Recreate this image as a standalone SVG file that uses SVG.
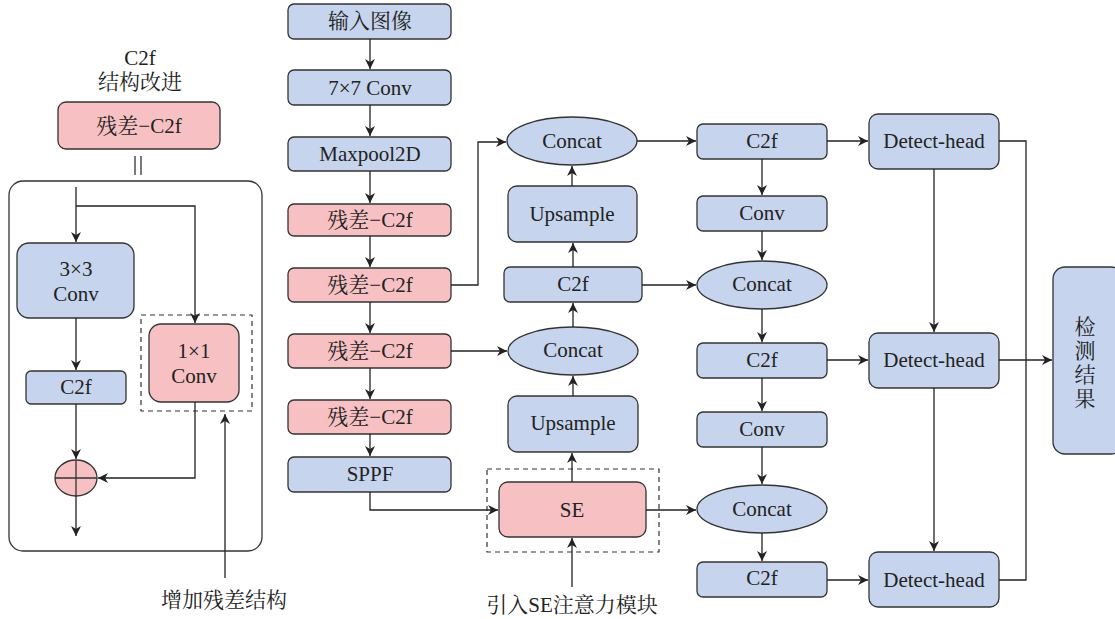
<svg xmlns="http://www.w3.org/2000/svg" width="1115" height="619" viewBox="0 0 1115 619">
<defs>
<marker id="ah" viewBox="0 0 10 10" refX="10" refY="5" markerWidth="10" markerHeight="10" markerUnits="userSpaceOnUse" orient="auto">
<path d="M0,0 L10,5 L0,10 L3,5 Z" fill="#222"/>
</marker>
<style>
.b{fill:#c6d5ed;stroke:#333;stroke-width:1.3}
.p{fill:#f7c1c3;stroke:#333;stroke-width:1.3}
.d{fill:none;stroke:#333;stroke-width:1.2;stroke-dasharray:5 4}
.o{fill:none;stroke:#333;stroke-width:1.3}
.t{font-family:'Liberation Serif','Times New Roman','Noto Serif CJK SC','Noto Sans CJK SC',serif;font-size:21px;fill:#222;text-anchor:middle;dominant-baseline:central}
.c line,.c path{fill:none;stroke:#222;stroke-width:1.3}
.a{marker-end:url(#ah)}
</style>
</defs>
<rect width="1115" height="619" fill="#fff"/>

<!-- Left panel -->
<g id="left-title"><text class="t" x="140" y="58">C2f</text><text class="t" x="140" y="82">结构改进</text></g>
<g id="left-res"><rect class="p" x="58" y="102" width="162" height="47" rx="8"/><text class="t" x="139" y="126">残差−C2f</text></g>
<g id="eq"><line x1="135" y1="156" x2="135" y2="175" stroke="#333" stroke-width="1.3"/><line x1="141" y1="156" x2="141" y2="175" stroke="#333" stroke-width="1.3"/></g>
<g id="left-frame"><rect class="o" x="9" y="181" width="253" height="370" rx="14"/></g>
<g id="conv3"><rect class="b" x="17" y="243" width="117" height="75" rx="12"/><text class="t" x="76" y="269">3×3</text><text class="t" x="76" y="294">Conv</text></g>
<g id="dash1"><rect class="d" x="141" y="315" width="111" height="96"/></g>
<g id="conv1"><rect class="p" x="149" y="324" width="90" height="78" rx="12"/><text class="t" x="194" y="351">1×1</text><text class="t" x="194" y="376">Conv</text></g>
<g id="lc2f"><rect class="b" x="26" y="371" width="100" height="33" rx="5"/><text class="t" x="76" y="387">C2f</text></g>
<g id="plus"><ellipse cx="76" cy="478" rx="21" ry="18" class="p"/><line x1="55" y1="478" x2="97" y2="478" stroke="#333" stroke-width="1.3"/><line x1="76" y1="460" x2="76" y2="496" stroke="#333" stroke-width="1.3"/></g>
<g id="note1"><text class="t" x="224" y="600">增加残差结构</text></g>

<!-- Main column -->
<g id="n-input"><rect class="b" x="288" y="4" width="163" height="35" rx="6"/><text class="t" x="370" y="21">输入图像</text></g>
<g id="n-conv7"><rect class="b" x="288" y="70" width="163" height="35" rx="6"/><text class="t" x="370" y="88">7×7 Conv</text></g>
<g id="n-maxpool"><rect class="b" x="288" y="137" width="163" height="34" rx="6"/><text class="t" x="370" y="154">Maxpool2D</text></g>
<g id="n-res1"><rect class="p" x="288" y="204" width="163" height="32" rx="6"/><text class="t" x="370" y="220">残差−C2f</text></g>
<g id="n-res2"><rect class="p" x="288" y="268" width="163" height="34" rx="6"/><text class="t" x="370" y="285">残差−C2f</text></g>
<g id="n-res3"><rect class="p" x="288" y="334" width="163" height="34" rx="6"/><text class="t" x="370" y="351">残差−C2f</text></g>
<g id="n-res4"><rect class="p" x="288" y="400" width="163" height="34" rx="6"/><text class="t" x="370" y="417">残差−C2f</text></g>
<g id="n-sppf"><rect class="b" x="288" y="457" width="163" height="35" rx="6"/><text class="t" x="370" y="474">SPPF</text></g>

<!-- Middle column -->
<g id="n-concat1"><ellipse class="b" cx="572" cy="141" rx="65" ry="24"/><text class="t" x="572" y="141">Concat</text></g>
<g id="n-up1"><rect class="b" x="508" y="186" width="129" height="56" rx="9"/><text class="t" x="572" y="214">Upsample</text></g>
<g id="n-c2fm"><rect class="b" x="504" y="267" width="138" height="35" rx="6"/><text class="t" x="573" y="284">C2f</text></g>
<g id="n-concat2"><ellipse class="b" cx="573" cy="351" rx="65" ry="24"/><text class="t" x="573" y="350">Concat</text></g>
<g id="n-up2"><rect class="b" x="508" y="396" width="130" height="56" rx="9"/><text class="t" x="573" y="423">Upsample</text></g>
<g id="dash2"><rect class="d" x="487" y="469" width="172" height="83"/></g>
<g id="n-se"><rect class="p" x="499" y="482" width="147" height="55" rx="9"/><text class="t" x="572" y="510">SE</text></g>
<g id="note2"><text class="t" x="572" y="605">引入SE注意力模块</text></g>

<!-- Third column -->
<g id="n-c2f1"><rect class="b" x="697" y="124" width="130" height="35" rx="6"/><text class="t" x="762" y="141">C2f</text></g>
<g id="n-conv1"><rect class="b" x="697" y="196" width="130" height="35" rx="6"/><text class="t" x="762" y="213">Conv</text></g>
<g id="n-concat3"><ellipse class="b" cx="762" cy="285" rx="65" ry="24"/><text class="t" x="762" y="284">Concat</text></g>
<g id="n-c2f2"><rect class="b" x="697" y="343" width="130" height="35" rx="6"/><text class="t" x="762" y="360">C2f</text></g>
<g id="n-conv2"><rect class="b" x="697" y="412" width="130" height="35" rx="6"/><text class="t" x="762" y="429">Conv</text></g>
<g id="n-concat4"><ellipse class="b" cx="762" cy="509" rx="65" ry="24"/><text class="t" x="762" y="509">Concat</text></g>
<g id="n-c2f3"><rect class="b" x="697" y="562" width="130" height="35" rx="6"/><text class="t" x="762" y="578">C2f</text></g>

<!-- Detect heads -->
<g id="n-dh1"><rect class="b" x="869" y="114" width="130" height="55" rx="9"/><text class="t" x="934" y="141">Detect-head</text></g>
<g id="n-dh2"><rect class="b" x="869" y="333" width="130" height="55" rx="9"/><text class="t" x="934" y="360">Detect-head</text></g>
<g id="n-dh3"><rect class="b" x="869" y="552" width="130" height="55" rx="9"/><text class="t" x="934" y="580">Detect-head</text></g>
<g id="n-result"><rect class="b" x="1053" y="267" width="70" height="187" rx="12"/><text class="t" x="1085" y="327">检</text><text class="t" x="1085" y="351">测</text><text class="t" x="1085" y="375">结</text><text class="t" x="1085" y="399">果</text></g>

<!-- Connectors -->
<g id="connectors" class="c">
<line class="a" x1="76" y1="187" x2="76" y2="242"/>
<path class="a" d="M76,206 H195 V323"/>
<line class="a" x1="76" y1="318" x2="76" y2="370"/>
<line class="a" x1="76" y1="404" x2="76" y2="459"/>
<path class="a" d="M195,402 V478 H98"/>
<line class="a" x1="76" y1="496" x2="76" y2="536"/>
<line class="a" x1="225" y1="578" x2="225" y2="414"/>

<line class="a" x1="370" y1="39" x2="370" y2="69"/>
<line class="a" x1="370" y1="105" x2="370" y2="136"/>
<line class="a" x1="370" y1="171" x2="370" y2="203"/>
<line class="a" x1="370" y1="236" x2="370" y2="267"/>
<line class="a" x1="370" y1="302" x2="370" y2="333"/>
<line class="a" x1="370" y1="368" x2="370" y2="399"/>
<line class="a" x1="370" y1="434" x2="370" y2="456"/>
<path class="a" d="M451,285 H478 V142 H506"/>
<line class="a" x1="451" y1="351" x2="507" y2="351"/>
<path class="a" d="M370,492 V510 H498"/>

<line class="a" x1="572" y1="587" x2="572" y2="538"/>
<line class="a" x1="572" y1="482" x2="572" y2="453"/>
<line class="a" x1="573" y1="396" x2="573" y2="376"/>
<line class="a" x1="573" y1="327" x2="573" y2="303"/>
<line class="a" x1="573" y1="267" x2="573" y2="243"/>
<line class="a" x1="572" y1="186" x2="572" y2="166"/>

<line class="a" x1="637" y1="141" x2="696" y2="141"/>
<line class="a" x1="642" y1="285" x2="696" y2="285"/>
<line class="a" x1="646" y1="510" x2="696" y2="510"/>

<line class="a" x1="762" y1="159" x2="762" y2="195"/>
<line class="a" x1="762" y1="231" x2="762" y2="260"/>
<line class="a" x1="762" y1="309" x2="762" y2="342"/>
<line class="a" x1="762" y1="378" x2="762" y2="411"/>
<line class="a" x1="762" y1="447" x2="762" y2="484"/>
<line class="a" x1="762" y1="533" x2="762" y2="561"/>

<line class="a" x1="827" y1="141" x2="868" y2="141"/>
<line class="a" x1="827" y1="360" x2="868" y2="360"/>
<line class="a" x1="827" y1="580" x2="868" y2="580"/>
<line class="a" x1="934" y1="169" x2="934" y2="332"/>
<line class="a" x1="934" y1="388" x2="934" y2="551"/>

<path d="M999,141 H1026 V580 H999"/>
<line class="a" x1="999" y1="360" x2="1052" y2="360"/>
</g>
</svg>
